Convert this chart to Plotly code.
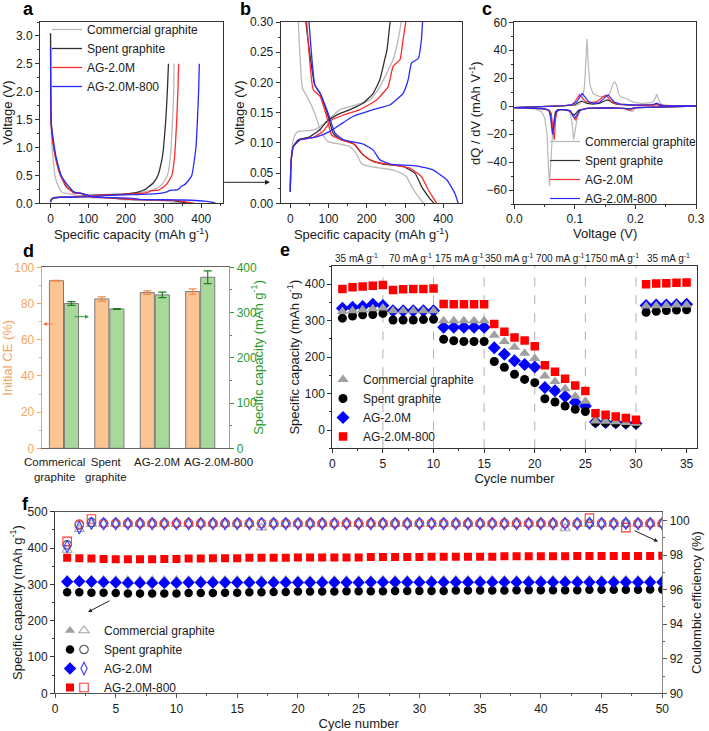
import plotly.graph_objects as go

W, H = 709, 731
FONT = "Arial, 'Liberation Sans', sans-serif"

def fx(p):
    return p / W

def fy(p):
    return 1 - p / H

# ---------------- data: panels a / b (voltage profiles) ----------------
names = ["Commercial graphite", "Spent graphite", "AG-2.0M", "AG-2.0M-800"]

comm_dis_cap = [0, 0.3, 1, 2, 4, 8, 13, 21, 32, 44, 64, 82, 99, 130, 156, 172, 186, 208, 240, 269, 290, 304, 317, 330, 342, 349]
comm_dis_v = [3.05, 2.2, 1.6, 1.25, 1.0, 0.7, 0.45, 0.30, 0.19, 0.177, 0.149, 0.116, 0.102, 0.098, 0.094, 0.083, 0.066, 0.061, 0.058, 0.055, 0.05, 0.044, 0.028, 0.015, 0.005, 0.0]
comm_ch_cap = [0, 1, 3, 8, 14, 21, 40, 60, 78, 104, 130, 173, 208, 230, 252, 269, 282, 290, 300, 310, 316, 320, 324, 327, 328]
comm_ch_v = [0.019, 0.05, 0.08, 0.105, 0.115, 0.119, 0.12, 0.121, 0.127, 0.141, 0.155, 0.163, 0.171, 0.188, 0.215, 0.238, 0.271, 0.30, 0.38, 0.5, 0.7, 1.0, 1.5, 2.0, 2.5]

spent_dis_cap = [0, 0.3, 1, 2, 5, 13, 25, 41, 64, 78, 99, 112, 130, 165, 186, 208, 243, 295, 326, 343, 360, 370, 376]
spent_dis_v = [3.05, 2.3, 1.7, 1.45, 1.2, 0.84, 0.54, 0.30, 0.196, 0.182, 0.144, 0.116, 0.106, 0.099, 0.083, 0.072, 0.065, 0.061, 0.050, 0.028, 0.012, 0.004, 0.0]
spent_ch_cap = [0, 1, 3, 8, 21, 51, 78, 95, 121, 156, 191, 217, 234, 247, 253, 261, 272, 285, 296, 300, 306, 310, 313]
spent_ch_v = [0.019, 0.05, 0.075, 0.094, 0.105, 0.11, 0.122, 0.135, 0.146, 0.155, 0.166, 0.182, 0.204, 0.238, 0.254, 0.30, 0.36, 0.5, 0.8, 1.0, 1.5, 2.0, 2.5]

ag_dis_cap = [0, 1, 3, 6, 13, 26, 43, 60, 78, 95, 108, 134, 169, 191, 217, 261, 313, 343, 361, 375, 383]
ag_dis_v = [1.85, 1.5, 1.3, 1.1, 0.82, 0.5, 0.30, 0.188, 0.177, 0.144, 0.113, 0.105, 0.097, 0.080, 0.069, 0.064, 0.058, 0.044, 0.022, 0.008, 0.0]
ag_ch_cap = [0, 1, 3, 8, 25, 60, 86, 108, 139, 182, 226, 256, 269, 287, 295, 302, 312, 322, 328, 331, 335, 338, 340]
ag_ch_v = [0.019, 0.05, 0.075, 0.094, 0.105, 0.109, 0.119, 0.138, 0.146, 0.155, 0.171, 0.193, 0.227, 0.238, 0.271, 0.30, 0.38, 0.5, 0.75, 1.0, 1.5, 2.0, 2.5]

ag8_dis_cap = [0, 0.3, 1, 2, 6, 14, 28, 49, 64, 78, 99, 117, 139, 191, 217, 234, 261, 330, 374, 409, 430, 439]
ag8_dis_v = [2.8, 2.2, 1.6, 1.4, 1.2, 0.85, 0.5, 0.30, 0.196, 0.182, 0.149, 0.116, 0.105, 0.098, 0.088, 0.072, 0.065, 0.062, 0.055, 0.039, 0.017, 0.0]
ag8_ch_cap = [0, 1, 3, 8, 25, 69, 104, 130, 165, 217, 261, 295, 308, 317, 335, 343, 346, 355, 365, 375, 386, 390, 393, 395]
ag8_ch_v = [0.019, 0.05, 0.075, 0.094, 0.105, 0.11, 0.119, 0.13, 0.144, 0.155, 0.163, 0.182, 0.204, 0.232, 0.240, 0.271, 0.30, 0.33, 0.4, 0.5, 1.0, 1.5, 2.0, 2.5]

# ---------------- data: panel c (dQ/dV) ----------------
comm_dq_ch_v = [0.0, 0.04, 0.08, 0.10, 0.108, 0.113, 0.116, 0.118, 0.120, 0.122, 0.125, 0.13, 0.14, 0.15, 0.156, 0.16, 0.163, 0.166, 0.169, 0.172, 0.176, 0.18, 0.185, 0.19, 0.2, 0.21, 0.22, 0.228, 0.232, 0.235, 0.238, 0.242, 0.25, 0.26, 0.3]
comm_dq_ch = [-1, -0.5, 0, 0.5, 1.5, 5, 15, 35, 48, 30, 15, 9, 7, 6.5, 8, 12, 16, 17.5, 15, 9, 6.5, 6, 5.5, 4, 2.5, 2, 2, 2.5, 5, 8.5, 5, 1.5, 0.5, 0.2, 0]
comm_dq_dis_v = [0.3, 0.25, 0.22, 0.2, 0.195, 0.19, 0.185, 0.17, 0.15, 0.13, 0.11, 0.104, 0.1, 0.098, 0.096, 0.093, 0.09, 0.08, 0.072, 0.067, 0.063, 0.06, 0.058, 0.056, 0.054, 0.05, 0.045, 0.035, 0.02, 0.0]
comm_dq_dis = [0, -0.3, -0.8, -1.5, -4, -3, -2, -1.5, -1.2, -1.5, -2.5, -8, -18, -24, -14, -6, -3.5, -2.5, -3, -5, -20, -48, -57, -40, -20, -8, -4, -2, -1.5, -1]

spent_dq_ch_v = [0.0, 0.05, 0.08, 0.1, 0.106, 0.11, 0.115, 0.12, 0.13, 0.14, 0.148, 0.153, 0.157, 0.162, 0.17, 0.2, 0.235, 0.24, 0.3]
spent_dq_ch = [-1, -0.3, 0.2, 1, 2.5, 3.5, 3, 2, 1.5, 2, 3.5, 4.5, 4, 2.5, 1.2, 0.6, 1.2, 0.6, 0]
spent_dq_dis_v = [0.3, 0.2, 0.19, 0.18, 0.15, 0.12, 0.106, 0.102, 0.099, 0.095, 0.09, 0.08, 0.072, 0.068, 0.066, 0.064, 0.062, 0.059, 0.055, 0.04, 0.0]
spent_dq_dis = [0, -1, -2, -1.5, -1, -1.5, -3, -5, -6.5, -5, -3, -2.5, -2.5, -4, -10, -20, -12, -4, -2.5, -1.5, -1]

ag_dq_ch_v = [0.0, 0.02, 0.05, 0.08, 0.095, 0.1, 0.104, 0.108, 0.112, 0.117, 0.125, 0.135, 0.142, 0.147, 0.152, 0.156, 0.16, 0.17, 0.2, 0.23, 0.237, 0.245, 0.3]
ag_dq_ch = [-1, -0.8, -0.3, 0.3, 1, 3, 6, 8.3, 6, 3.5, 2.5, 3, 5, 7, 7.8, 6, 3.5, 1.5, 0.7, 0.8, 1.5, 0.5, 0]
ag_dq_dis_v = [0.3, 0.25, 0.2, 0.193, 0.19, 0.18, 0.15, 0.12, 0.108, 0.104, 0.101, 0.097, 0.092, 0.085, 0.075, 0.07, 0.068, 0.066, 0.064, 0.061, 0.058, 0.05, 0.03, 0.02, 0.0]
ag_dq_dis = [0, -0.3, -1, -2.5, -3, -1.5, -1.2, -1.5, -3, -7, -10, -7, -3.5, -2.5, -2.5, -4, -10, -24, -15, -5, -3, -2, -1.5, -1.0, -1]

ag8_dq_ch_v = [0.0, 0.05, 0.08, 0.095, 0.103, 0.108, 0.112, 0.116, 0.122, 0.13, 0.14, 0.147, 0.152, 0.155, 0.159, 0.165, 0.175, 0.2, 0.228, 0.235, 0.238, 0.245, 0.3]
ag8_dq_ch = [-1, -0.3, 0.3, 1, 3, 6.5, 9, 7, 3.5, 2, 2.5, 5, 7.5, 8, 6, 3, 1.5, 0.7, 1, 2.2, 1.5, 0.4, 0]
ag8_dq_dis_v = [0.3, 0.25, 0.2, 0.19, 0.18, 0.15, 0.12, 0.108, 0.104, 0.1, 0.097, 0.093, 0.085, 0.075, 0.07, 0.067, 0.065, 0.063, 0.06, 0.057, 0.05, 0.03, 0.0]
ag8_dq_dis = [0, -0.3, -1, -2, -1.5, -1.2, -1.5, -3, -6, -8.5, -7, -3.5, -2.5, -2.5, -3.5, -8, -15, -20, -8, -3, -2, -1.5, -1]

# ---------------- data: panel d (bars) ----------------
d_categories = ["Commerical<br>graphite", "Spent<br>graphite", "AG-2.0M", "AG-2.0M-800"]
d_label_pos = [-0.2, 0.93, 2.05, 3.4]
initial_ce = [92.6, 82.5, 86.0, 86.6]
initial_ce_err = [0.2, 1.2, 1.0, 1.5]
d_capacity = [320, 308, 339, 378]
d_capacity_err = [4, 1, 6, 14]

# ---------------- data: panel e (rate) ----------------
cycles_e = list(range(1, 36))
rate_comm = [325, 327, 330, 333, 335, 327, 327, 327, 327, 327, 300, 300, 300, 300, 300, 260, 243, 227, 211, 196, 148, 133, 113, 93, 79, 25, 24, 23, 21, 19, 340, 341, 342, 343, 343]
rate_spent = [307, 313, 316, 317, 320, 302, 302, 302, 303, 304, 249, 245, 243, 243, 243, 188, 172, 153, 139, 130, 86, 77, 66, 57, 51, 21, 20, 19, 18, 17, 323, 326, 328, 329, 330]
rate_ag = [334, 337, 339, 345, 342, 327, 327, 327, 327, 327, 282, 282, 282, 282, 282, 226, 208, 190, 180, 173, 117, 108, 92, 76, 66, 22, 21, 20, 19, 18, 342, 343, 343, 344, 345]
rate_ag8 = [387, 392, 394, 396, 398, 384, 386, 387, 387, 388, 346, 345, 345, 345, 345, 291, 270, 254, 246, 230, 178, 160, 141, 122, 107, 46, 42, 37, 33, 28, 400, 402, 403, 404, 405]
rate_boundaries = [5, 10, 15, 20, 25, 30]
rate_labels = ["35 mA g<sup>-1</sup>", "70 mA g<sup>-1</sup>", "175 mA g<sup>-1</sup>", "350 mA g<sup>-1</sup>",
               "700 mA g<sup>-1</sup>", "1750 mA g<sup>-1</sup>", "35 mA g<sup>-1</sup>"]
rate_label_pos = [2.4, 7.7, 12.6, 17.5, 22.5, 27.6, 33.2]

# ---------------- data: panel f (cycling) ----------------
cycles_f = list(range(1, 51))
cyc_comm = [314, 315, 315, 314, 313, 313, 313, 313, 313, 313, 313, 313, 313, 313, 313, 313, 313, 313, 313, 313,
            313, 313, 313, 313, 313, 313, 314, 314, 314, 314, 314, 314, 314, 314, 314, 314, 314, 314, 314, 314,
            314, 314, 314, 314, 314, 314, 314, 314, 314, 314]
cyc_spent = [278, 278, 277, 277, 276, 275, 275, 275, 275, 275, 276, 276, 276, 277, 277, 278, 278, 279, 279, 280,
             280, 280, 280, 281, 281, 281, 281, 282, 282, 282, 282, 282, 283, 283, 283, 283, 283, 284, 284, 284,
             284, 284, 284, 285, 285, 285, 285, 285, 286, 286]
cyc_ag = [307, 308, 307, 306, 305, 304, 304, 304, 304, 304, 305, 305, 305, 305, 305, 305, 305, 305, 305, 305,
          305, 305, 305, 305, 305, 306, 306, 306, 306, 306, 306, 306, 306, 306, 306, 306, 306, 306, 306, 306,
          306, 306, 306, 306, 306, 306, 306, 306, 306, 306]
cyc_ag8 = [373, 372, 371, 370, 369, 369, 369, 369, 370, 370, 371, 371, 372, 372, 372, 373, 373, 373, 373, 374,
           374, 374, 374, 374, 374, 375, 375, 375, 375, 375, 376, 376, 376, 376, 376, 376, 377, 377, 377, 377,
           377, 377, 378, 378, 378, 378, 378, 378, 378, 379]
ce_comm = [98.3, 99.5, 99.8, 99.8, 99.8, 99.8, 99.8, 99.8, 99.8, 99.8, 99.8, 99.8, 99.8, 99.8, 99.8, 99.8, 99.6, 99.8, 99.8, 99.8,
           99.8, 99.8, 99.8, 99.8, 99.8, 99.8, 99.8, 99.8, 99.8, 99.8, 99.8, 99.8, 99.8, 99.8, 99.8, 99.8, 99.8, 99.8, 99.8, 99.8,
           99.8, 99.55, 99.8, 99.8, 99.8, 99.8, 99.8, 99.8, 99.8, 99.8]
ce_spent = [98.6, 99.75, 99.9, 99.85, 99.85, 99.85, 99.85, 99.85, 99.85, 99.85, 99.85, 99.85, 99.85, 99.85, 99.85, 99.85, 99.85, 99.85, 99.85, 99.85,
            99.85, 99.85, 99.85, 99.85, 99.85, 99.85, 99.85, 99.85, 99.85, 99.85, 99.85, 99.85, 99.85, 99.85, 99.85, 99.85, 99.85, 99.85, 99.85, 99.85,
            99.85, 99.85, 99.85, 99.85, 99.85, 99.85, 99.85, 99.85, 99.85, 99.85]
ce_ag = [98.5, 99.6, 99.85, 99.83, 99.83, 99.83, 99.83, 99.83, 99.83, 99.83, 99.83, 99.83, 99.83, 99.83, 99.83, 99.83, 99.83, 99.83, 99.83, 99.83,
         99.83, 99.83, 99.83, 99.83, 99.83, 99.83, 99.83, 99.83, 99.83, 99.83, 99.83, 99.83, 99.83, 99.83, 99.83, 99.83, 99.83, 99.83, 99.83, 99.83,
         99.83, 99.83, 99.83, 99.85, 99.83, 99.83, 99.85, 99.83, 99.83, 99.83]
ce_ag8 = [98.8, 99.8, 100.1, 99.85, 99.85, 99.85, 99.85, 99.85, 99.85, 99.85, 99.85, 99.85, 99.85, 99.85, 99.85, 99.85, 99.85, 99.85, 99.85, 99.85,
          99.85, 99.85, 99.85, 99.85, 99.85, 99.85, 99.85, 99.85, 99.85, 99.85, 99.85, 99.85, 99.85, 99.85, 99.85, 99.85, 99.85, 99.85, 99.85, 99.85,
          99.85, 99.85, 99.85, 100.15, 99.85, 99.85, 99.6, 99.85, 99.85, 99.85]

# ---------------- styles ----------------
LINE_COLORS = ["#b8b8b8", "#303030", "#ff2a2a", "#2a2aff"]
MK_COLORS = ["#a0a0a0", "#000000", "#0000ff", "#ff0000"]
ORANGE = "#f6a462"
GREEN = "#2a9a2a"

fig = go.Figure()

profiles = [
    (comm_dis_cap, comm_dis_v, comm_ch_cap, comm_ch_v),
    (spent_dis_cap, spent_dis_v, spent_ch_cap, spent_ch_v),
    (ag_dis_cap, ag_dis_v, ag_ch_cap, ag_ch_v),
    (ag8_dis_cap, ag8_dis_v, ag8_ch_cap, ag8_ch_v),
]
for i, (dc, dv, cc, cv) in enumerate(profiles):
    xs = list(dc) + [None] + list(cc)
    ys = list(dv) + [None] + list(cv)
    for (xa, ya, show) in [("x", "y", True), ("x2", "y2", False)]:
        fig.add_trace(go.Scatter(x=xs, y=ys, xaxis=xa, yaxis=ya, mode="lines", name=names[i],
                                 line=dict(color=LINE_COLORS[i], width=1.3, shape="spline", smoothing=0.4),
                                 showlegend=show, legend="legend", connectgaps=False))

dqdv = [
    (comm_dq_ch_v, comm_dq_ch, comm_dq_dis_v, comm_dq_dis),
    (spent_dq_ch_v, spent_dq_ch, spent_dq_dis_v, spent_dq_dis),
    (ag_dq_ch_v, ag_dq_ch, ag_dq_dis_v, ag_dq_dis),
    (ag8_dq_ch_v, ag8_dq_ch, ag8_dq_dis_v, ag8_dq_dis),
]
for i, (cv, cq, dv, dq) in enumerate(dqdv):
    fig.add_trace(go.Scatter(x=list(cv) + [None] + list(dv), y=list(cq) + [None] + list(dq),
                             xaxis="x3", yaxis="y3", mode="lines", name=names[i],
                             line=dict(color=LINE_COLORS[i], width=1.2), legend="legend2"))

# panel d bars
fig.add_trace(go.Bar(x=d_categories, y=initial_ce, xaxis="x4", yaxis="y4", offsetgroup="1",
                     marker=dict(color="#fcc694", line=dict(color="#7a7a7a", width=1),
                                 pattern=dict(shape=".", fgcolor="#f5b47a", size=4, solidity=0.15)),
                     error_y=dict(type="data", array=initial_ce_err, color="#f0894a", thickness=1.2, width=4),
                     showlegend=False))
fig.add_trace(go.Bar(x=d_categories, y=d_capacity, xaxis="x4", yaxis="y5", offsetgroup="2",
                     marker=dict(color="#a9d99c", line=dict(color="#7a7a7a", width=1),
                                 pattern=dict(shape=".", fgcolor="#8ccc80", size=4, solidity=0.15)),
                     error_y=dict(type="data", array=d_capacity_err, color="#1e7e1e", thickness=1.2, width=4),
                     showlegend=False))

# panel e markers (draw order: blue, black, grey, red)
e_series = [
    (rate_ag, 2, "diamond", 10, 3),
    (rate_spent, 1, "circle", 9, 2),
    (rate_comm, 0, "triangle-up", 10, 1),
    (rate_ag8, 3, "square", 8.5, 4),
]
for vals, idx, sym, sz, rank in e_series:
    fig.add_trace(go.Scatter(x=cycles_e, y=vals, xaxis="x5", yaxis="y6", mode="markers", name=names[idx],
                             marker=dict(symbol=sym, size=sz, color=MK_COLORS[idx]),
                             legend="legend3", legendrank=rank))

# panel f capacity (filled) : grey, black, blue, red
f_fill = [
    (cyc_comm, 0, "triangle-up", 9, 1),
    (cyc_spent, 1, "circle", 8.5, 2),
    (cyc_ag, 2, "diamond", 9.5, 3),
    (cyc_ag8, 3, "square", 8, 4),
]
for vals, idx, sym, sz, rank in f_fill:
    fig.add_trace(go.Scatter(x=cycles_f, y=vals, xaxis="x6", yaxis="y7", mode="markers", name="",
                             marker=dict(symbol=sym, size=sz, color=MK_COLORS[idx]),
                             legend="legend4", legendrank=rank))

ag8_symbols = ["square-open" if v > 99.95 or v < 99.7 else "circle-open" for v in ce_ag8]
f_open = [
    (ce_comm, 0, "triangle-up-open", 9, 1, "#a8a8a8"),
    (ce_spent, 1, "circle-open", 8.5, 2, "#505050"),
    (ce_ag8, 3, ag8_symbols, 8.5, 4, "#ff3b3b"),
    (ce_ag, 2, "diamond-tall-open", 9, 3, "#3a3aff"),
]
for vals, idx, sym, sz, rank, col in f_open:
    fig.add_trace(go.Scatter(x=cycles_f, y=vals, xaxis="x6", yaxis="y8", mode="markers", name=names[idx],
                             marker=dict(symbol=sym, size=sz, color=col, line=dict(color=col, width=1.1)),
                             legend="legend5", legendrank=rank))

# ---------------- axes ----------------
TICKFONT = dict(family=FONT, size=12, color="#1a1a1a")
TITLEFONT = dict(family=FONT, size=13, color="#1a1a1a")


def axis(domain, anchor, rng, dtick, title, minor_dtick=None, mirror=True, color="#333", tickcolor=None,
         tickfont=None, titlefont=None, standoff=2, **kw):
    d = dict(domain=domain, anchor=anchor, range=rng, dtick=dtick, showline=True, linecolor=color, linewidth=1,
             mirror=mirror, ticks="outside", ticklen=4, tickwidth=1, tickcolor=tickcolor or color,
             tickfont=tickfont or TICKFONT, showgrid=False, zeroline=False, automargin=False,
             title=dict(text=title, font=titlefont or TITLEFONT, standoff=standoff))
    if minor_dtick:
        d["minor"] = dict(dtick=minor_dtick, ticks="outside", ticklen=2, tickcolor=tickcolor or color, showgrid=False)
    d.update(kw)
    return d


cap_title = "Specific capacity (mAh g<sup>-1</sup>)"

layout_axes = dict(
    xaxis=axis([fx(40), fx(222.7)], "y", [-28, 457], 100, cap_title, 50, tick0=0),
    yaxis=axis([fy(203.3), fy(22)], "x", [0, 3.25], 0.5, "Voltage (V)", 0.25, tickformat=".1f"),
    xaxis2=axis([fx(280.7), fx(462)], "y2", [-25, 449], 100, cap_title, 50, tick0=0),
    yaxis2=axis([fy(203.3), fy(22)], "x2", [0, 0.3], 0.05, "Voltage (V)", 0.025, tickformat=".2f"),
    xaxis3=axis([fx(514.3), fx(696)], "y3", [0, 0.3], 0.1, "Voltage (V)", 0.05, tickformat=".1f"),
    yaxis3=axis([fy(204), fy(22.3)], "x3", [-70, 60], 20, "dQ / dV (mAh V<sup>-1</sup>)", 10, tick0=0),
    xaxis4=dict(domain=[fx(41.7), fx(229.3)], anchor="y4", type="category", range=[-0.49, 3.64],
                showline=True, linecolor="#666", mirror=True, ticks="", showticklabels=False, showgrid=False,
                automargin=False),
    yaxis4=axis([fy(448.3), fy(267.3)], "x4", [0, 100], 20, "Initial CE (%)", 10, mirror=False, color=ORANGE,
                tickfont=dict(family=FONT, size=12, color=ORANGE), titlefont=dict(family=FONT, size=13, color=ORANGE)),
    yaxis5=axis([fy(448.3), fy(267.3)], "x4", [0, 400], 100, "", 50, mirror=False, color="#8aa98a",
                tickcolor=GREEN, tickfont=dict(family=FONT, size=12, color=GREEN),
                overlaying="y4", side="right"),
    xaxis5=axis([fx(332.3), fx(696.7)], "y6", [0, 36], 5, "Cycle number", 2.5),
    yaxis6=axis([fy(448.3), fy(266)], "x5", [-50, 450], 100, cap_title, 50, tick0=0),
    xaxis6=axis([fx(55), fx(662.3)], "y7", [0, 50], 5, "Cycle number", 2.5, color="#555"),
    yaxis7=axis([fy(693.3), fy(511.7)], "x6", [0, 500], 100, cap_title, 50, mirror=False),
    yaxis8=axis([fy(693.3), fy(511.7)], "x6", [90, 100.52], 2, "Coulombic efficiency (%)", 1, mirror=False,
                color="#888", tickcolor="#555", overlaying="y7", side="right", tick0=90),
)

# ---------------- legends ----------------
def leg(x, y):
    return dict(x=fx(x), y=fy(y), xanchor="left", yanchor="top", bgcolor="rgba(0,0,0,0)", borderwidth=0,
                font=dict(family=FONT, size=12, color="#1a1a1a"), itemwidth=30, tracegroupgap=0,
                itemclick=False, itemdoubleclick=False)

# ---------------- annotations ----------------
annotations = []
for txt, x, y in [("a", 21, 9), ("b", 238, 9), ("c", 480, 9), ("d", 21, 251), ("e", 278, 250), ("f", 20, 504)]:
    annotations.append(dict(text=f"<b>{txt}</b>", x=fx(x), y=fy(y), xref="paper", yref="paper",
                            xanchor="left", yanchor="middle", showarrow=False,
                            font=dict(family=FONT, size=18, color="#000")))
for lbl, pos in zip(rate_labels, rate_label_pos):
    annotations.append(dict(text=lbl, x=pos, xref="x5", y=fy(258), yref="paper", showarrow=False,
                            xanchor="center", yanchor="middle", font=dict(family=FONT, size=10, color="#1a1a1a")))
for lbl, pos in zip(d_categories, d_label_pos):
    annotations.append(dict(text=lbl, x=pos, xref="x4", y=fy(454), yref="paper", showarrow=False,
                            xanchor="center", yanchor="top", font=dict(family=FONT, size=11.5, color="#1a1a1a")))
annotations.append(dict(text=cap_title, textangle=-90, x=fx(257), y=fy(357.8), xref="paper", yref="paper",
                        showarrow=False, xanchor="center", yanchor="middle",
                        font=dict(family=FONT, size=13, color=GREEN)))


def arrow(head, tail, color, size=0.8):
    return dict(x=fx(head[0]), y=fy(head[1]), xref="paper", yref="paper", axref="pixel", ayref="pixel",
                ax=tail[0] - head[0], ay=tail[1] - head[1], showarrow=True, arrowhead=2, arrowsize=size,
                arrowwidth=1, arrowcolor=color, text="")


annotations += [
    arrow((270, 182.3), (222.7, 182.3), "#222", 1),
    arrow((43, 324), (54, 324), "#f07050"),
    arrow((89, 316.7), (73, 316.7), "#30a030"),
    arrow((88, 612), (111, 600), "#222"),
    arrow((658, 541.5), (633, 530), "#222"),
]

shapes = []
for b in rate_boundaries:
    shapes.append(dict(type="line", xref="x5", yref="y6 domain", x0=b, x1=b, y0=0, y1=1,
                       line=dict(color="#b0b0b0", width=1, dash="dash"), layer="below"))

fig.update_layout(
    width=W, height=H, margin=dict(l=0, r=0, t=0, b=0, autoexpand=False), paper_bgcolor="white", plot_bgcolor="white",
    font=dict(family=FONT, size=12, color="#1a1a1a"),
    barmode="group", bargap=0.34, bargroupgap=0.06,
    legend=leg(47, 15), legend2=leg(545, 127), legend3=leg(323, 365),
    legend4=leg(50, 616), legend5=leg(64, 616),
    annotations=annotations, shapes=shapes,
    **layout_axes,
)

fig.write_html("out.html", config={"displayModeBar": False},
               post_script="document.body.style.margin='0px';")
